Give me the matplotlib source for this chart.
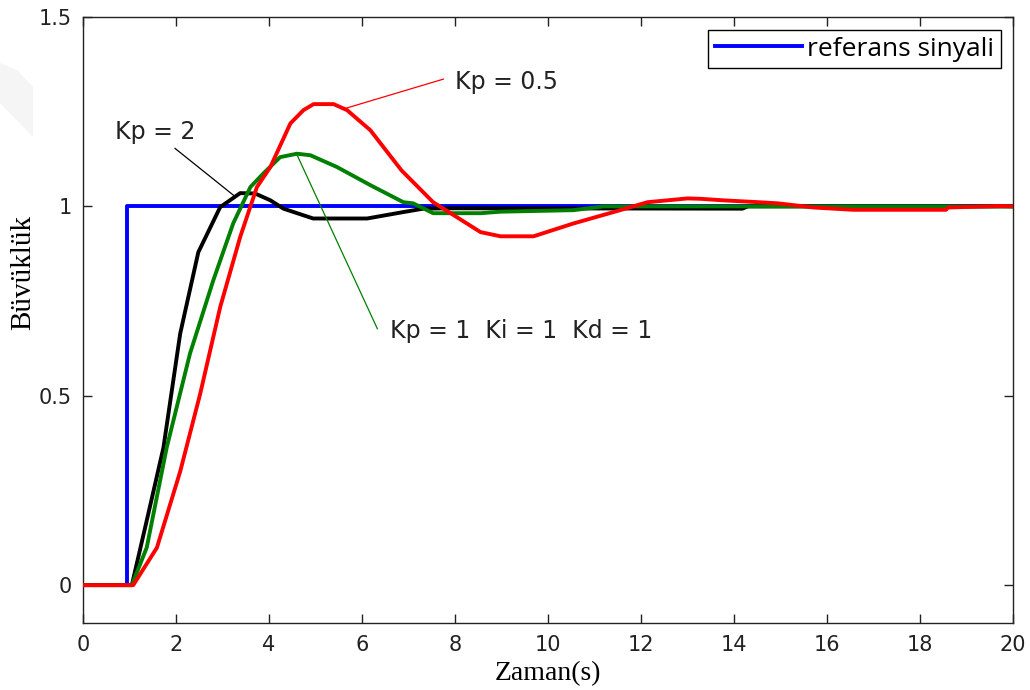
import numpy as np
import matplotlib
matplotlib.use("Agg")
from matplotlib import pyplot as plt
from matplotlib import font_manager
from matplotlib.patches import Polygon

# reference step and the three PID responses
t_ref = [0, 0.95, 0.95, 20]
y_ref = [0, 0, 1, 1]

t_kp2 = [0, 1.05, 1.37, 1.73, 2.09, 2.48, 2.95, 3.38, 3.70, 4.03, 4.31, 4.95,
         6.11, 6.89, 7.32, 8.0, 14.18, 14.3, 20]
y_kp2 = [0, 0, 0.17, 0.363, 0.664, 0.879, 0.998, 1.035, 1.034, 1.016, 0.994, 0.968,
         0.968, 0.985, 0.994, 0.995, 0.994, 1.0, 1.0]

t_pid = [0, 1.05, 1.37, 1.80, 2.30, 2.80, 3.23, 3.6, 3.88, 4.24, 4.6, 4.89, 5.46,
         6.18, 6.89, 7.1, 7.53, 8.55, 8.98, 9.77, 10.55, 11.2, 20]
y_pid = [0, 0, 0.099, 0.363, 0.611, 0.804, 0.955, 1.051, 1.087, 1.130, 1.139, 1.135, 1.104,
         1.056, 1.011, 1.008, 0.982, 0.982, 0.986, 0.988, 0.990, 1.0, 1.0]

t_kp05 = [0, 1.08, 1.59, 2.09, 2.52, 2.95, 3.38, 3.74, 4.03, 4.46, 4.74, 4.96, 5.39,
          5.68, 6.18, 6.85, 7.53, 8.55, 8.98, 9.69, 10.55, 11.41, 12.14, 13.0, 13.28,
          13.76, 14.53, 14.94, 15.37, 15.72, 16.56, 18.56, 18.6, 19.74, 20]
y_kp05 = [0, 0, 0.099, 0.30, 0.505, 0.734, 0.919, 1.051, 1.104, 1.219, 1.254, 1.270, 1.270,
          1.254, 1.201, 1.095, 1.011, 0.932, 0.921, 0.921, 0.955, 0.985, 1.011, 1.021, 1.020,
          1.016, 1.011, 1.008, 1.002, 0.997, 0.991, 0.991, 0.997, 1.001, 1.0]

x_ticks = np.arange(0, 21, 2)
y_ticks = [0, 0.5, 1, 1.5]
y_tick_labels = ["0", "0.5", "1", "1.5"]


def pick_font(*names):
  for n in names:
    try:
      font_manager.findfont(n, fallback_to_default=False)
      return n
    except Exception:
      pass
  return "DejaVu Sans"


def main():
  serif = pick_font("Liberation Serif", "DejaVu Serif")
  legend_font = pick_font("Open Sans", "Lato", "DejaVu Sans")

  W, H = 1030, 690
  fig = plt.figure(figsize=(W / 100, H / 100), dpi=100)

  # faint watermark in the top-left corner (pixel outline)
  wm = [(0, 63), (17, 70), (33, 87), (33, 137), (0, 103)]
  fig.patches.append(Polygon([(x / W, 1 - y / H) for x, y in wm], closed=True,
                             transform=fig.transFigure, facecolor="#f5f5f5",
                             edgecolor="none", zorder=0))

  ax = fig.add_axes([83 / W, 67 / H, 930 / W, 606 / H])
  ax.patch.set_alpha(0)

  ax.plot(t_ref, y_ref, color="#0000ff", lw=2.8, label="referans sinyali", zorder=3)
  ax.plot(t_kp2, y_kp2, color="black", lw=2.8, zorder=4)
  ax.plot(t_pid, y_pid, color="#008000", lw=2.8, zorder=5)
  ax.plot(t_kp05, y_kp05, color="#ff0000", lw=2.8, zorder=6)

  # leader lines + labels
  ax.plot([7.75, 5.57], [1.336, 1.256], color="#ff0000", lw=0.9, zorder=7)
  ax.plot([1.98, 3.24], [1.153, 1.029], color="black", lw=0.9, zorder=7)
  ax.plot([4.58, 6.33], [1.142, 0.677], color="#008000", lw=0.9, zorder=7)

  txt = dict(fontsize=17, family="DejaVu Sans", color="#222222", va="center", ha="left")
  ax.text(8.01, 1.329, "Kp = 0.5", **txt)
  ax.text(0.69, 1.196, "Kp = 2", **txt)
  ax.text(6.61, 0.672, "Kp = 1  Ki = 1  Kd = 1", **txt)

  ax.set_xlim(0, 20)
  ax.set_ylim(-0.1, 1.5)
  ax.set_xticks(x_ticks)
  ax.set_xticklabels([str(v) for v in x_ticks])
  ax.set_yticks(y_ticks)
  ax.set_yticklabels(y_tick_labels)
  ax.tick_params(direction="in", top=True, right=True, length=6.5, width=1.0,
                 labelsize=15, labelcolor="#222222", color="#222222")
  ax.tick_params(axis="x", pad=8.5)
  ax.tick_params(axis="y", pad=8)
  for s in ax.spines.values():
    s.set_linewidth(1.0)
    s.set_color("#222222")

  ax.set_xlabel("Zaman(s)", family=serif, fontsize=20, va="center")
  ax.xaxis.set_label_coords(0.5, -0.084)
  ax.set_ylabel("Büvüklük", family=serif, fontsize=21, va="center")
  ax.yaxis.set_label_coords(-0.0645, 0.579)

  leg = ax.legend(loc="upper right", bbox_to_anchor=(0.987, 0.9786), borderaxespad=0,
                  prop={"family": legend_font, "size": 19}, handlelength=3.3,
                  handletextpad=0.2, fancybox=False, framealpha=1, borderpad=0.25)
  leg.get_frame().set_edgecolor("black")
  leg.get_frame().set_linewidth(1.0)

  fig.savefig("out.png", dpi=100)


if __name__ == "__main__":
  main()
